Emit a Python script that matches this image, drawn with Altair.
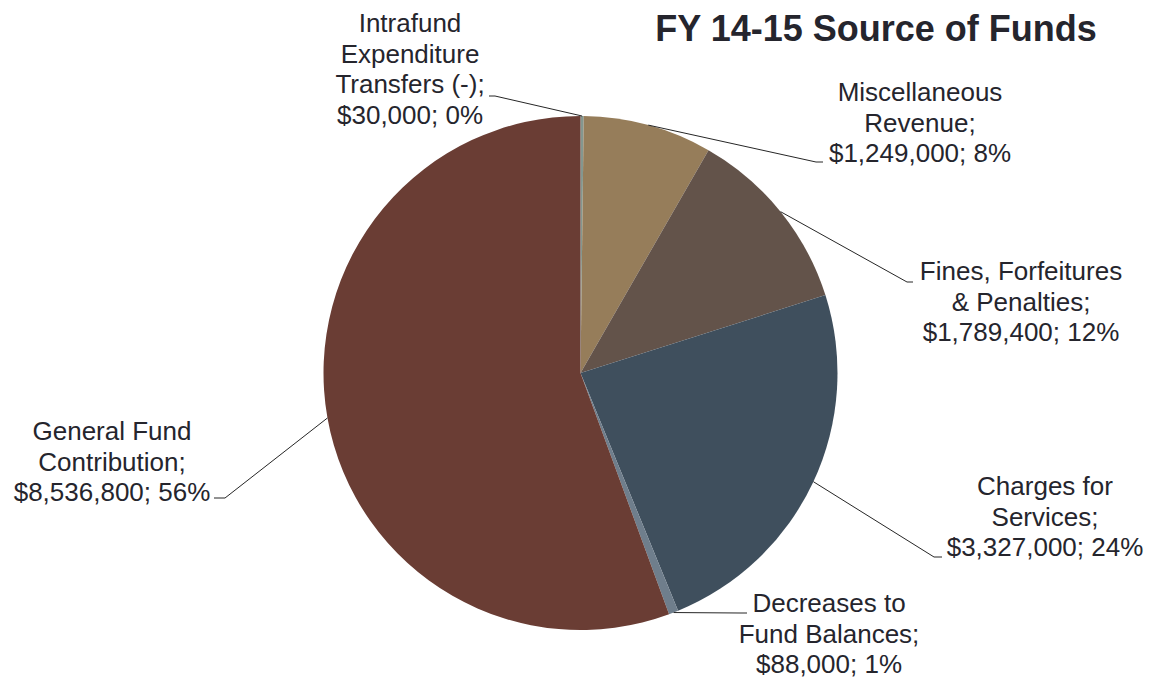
import altair as alt

# ---- data ----
categories = [
    "Intrafund Expenditure Transfers (-)",
    "Miscellaneous Revenue",
    "Fines, Forfeitures & Penalties",
    "Charges for Services",
    "Decreases to Fund Balances",
    "General Fund Contribution",
]
amounts = ["$30,000", "$1,249,000", "$1,789,400", "$3,327,000", "$88,000", "$8,536,800"]
pct_labels = ["0%", "8%", "12%", "24%", "1%", "56%"]
# slice shares (%) as drawn in the pie
slice_share = [0.2, 8.1, 11.8, 23.7, 0.6, 55.6]
label_heads = [
    ["Intrafund", "Expenditure", "Transfers (-);"],
    ["Miscellaneous", "Revenue;"],
    ["Fines, Forfeitures", "& Penalties;"],
    ["Charges for", "Services;"],
    ["Decreases to", "Fund Balances;"],
    ["General Fund", "Contribution;"],
]
colors = ["#84978f", "#967d5a", "#63534a", "#3f4f5d", "#6f7e8c", "#6a3d34"]
title_text = "FY 14-15 Source of Funds"

# ---- layout (pixels inside the chart) ----
CX, CY, R = 572.5, 365, 257
label_x = [402, 912, 1013, 1037, 821, 104]
label_y = [16, 85, 264, 479, 596, 424]   # centre of first line
elbow_x = [487, 808, 899, 926, 732, 217]
elbow_y = [88, 154, 274, 549, 605, 490]
tail_x = [481, 815, 905, 934, 739, 206]

FONT = "Liberation Sans, Arial, sans-serif"
TXT = "#25252d"

rows = []
for i, c in enumerate(categories):
    rows.append(dict(
        idx=i, cat=c, share=slice_share[i],
        text=label_heads[i] + [f"{amounts[i]}; {pct_labels[i]}"],
        lx=label_x[i], ly=label_y[i], ex=elbow_x[i], ey=elbow_y[i], tx=tail_x[i],
    ))
data = alt.Data(values=rows)

pie = alt.Chart(data).mark_arc(outerRadius=R).encode(
    theta=alt.Theta("share:Q", stack=True),
    color=alt.Color("cat:N", scale=alt.Scale(domain=categories, range=colors), legend=None),
    order=alt.Order("idx:Q"),
    x=alt.value(CX),
    y=alt.value(CY),
)

base = alt.Chart(data).transform_joinaggregate(
    total="sum(share)"
).transform_window(
    cum="sum(share)", sort=[alt.SortField("idx")], frame=[None, 0]
).transform_calculate(
    mid="(datum.cum - datum.share/2) / datum.total * 2 * PI",
    ax=f"{CX} + {R} * sin(datum.mid)",
    ay=f"{CY} - {R} * cos(datum.mid)",
)

lead1 = base.mark_rule(color="#262626", strokeWidth=1).encode(
    x=alt.X("ax:Q", scale=None, axis=None),
    y=alt.Y("ay:Q", scale=None, axis=None),
    x2="ex:Q",
    y2="ey:Q",
)
lead2 = base.mark_rule(color="#262626", strokeWidth=1).encode(
    x=alt.X("ex:Q", scale=None, axis=None),
    y=alt.Y("ey:Q", scale=None, axis=None),
    x2="tx:Q",
    y2="ey:Q",
)
labels = base.mark_text(
    font=FONT, fontSize=26, lineHeight=30.5, align="center", baseline="middle", color=TXT
).encode(
    x=alt.X("lx:Q", scale=None, axis=None),
    y=alt.Y("ly:Q", scale=None, axis=None),
    text="text:N",
)

title = alt.Chart(alt.Data(values=[{"t": title_text}])).mark_text(
    font=FONT, fontSize=36, fontWeight="bold", align="center", baseline="alphabetic", color=TXT
).encode(x=alt.value(868), y=alt.value(33), text="t:N")

chart = alt.layer(pie, lead1, lead2, labels, title).properties(
    width=1140, height=670, autosize=alt.AutoSizeParams(type="none"), padding=0
).configure_view(stroke=None)

chart.save("out.html", embed_options={"renderer": "svg", "actions": False})
